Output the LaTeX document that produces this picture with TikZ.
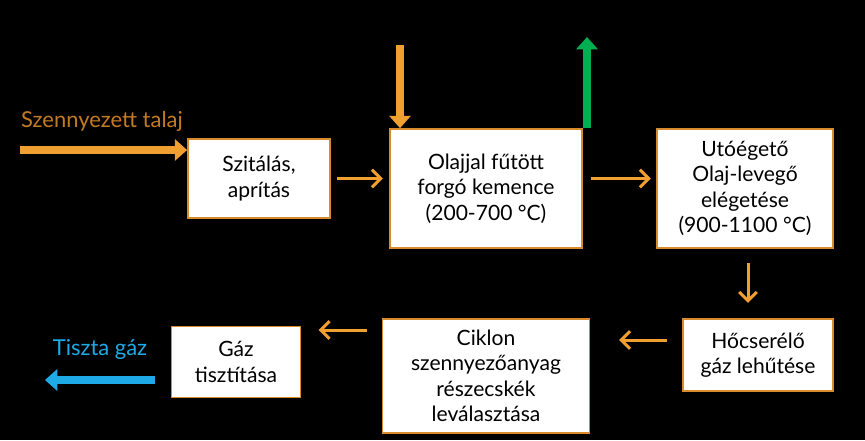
\documentclass[tikz,border=0pt]{standalone}
\usepackage{fontspec}
\setmainfont{Lato}
\usetikzlibrary{arrows.meta}
\definecolor{boxorange}{HTML}{D98A2B}
\definecolor{arrorange}{HTML}{F0A030}
\definecolor{labbrown}{HTML}{C47A22}
\definecolor{outgreen}{HTML}{00B050}
\definecolor{outblue}{HTML}{1EAAE6}
\tikzset{
    >=Stealth,
    stepbox/.style={draw=boxorange,line width=1pt,fill=white,align=center,font=\fontsize{12}{14.5}\selectfont},
    flow/.style={draw=arrorange,line width=1.7pt,-{Straight Barb[length=5pt,width=10pt]}},
    fat/.style={line width=5pt,-{Triangle[length=7pt,width=12pt]}},
}
\begin{document}
\begin{tikzpicture}[x=0.02cm,y=-0.02cm]
\fill[black] (0,0) rectangle (865,440);

\node[stepbox,minimum width=2.84cm,minimum height=1.58cm] (szit) at (259,178.5) {Szitálás,\\aprítás};
\node[stepbox,minimum width=3.84cm,minimum height=2.38cm] (kem) at (486,188.5) {Olajjal fűtött\\forgó kemence\\(200-700 °C)};
\node[stepbox,minimum width=3.52cm,minimum height=2.38cm] (uto) at (745,188.5) {Utóégető\\Olaj-levegő\\elégetése\\(900-1100 °C)};
\node[stepbox,minimum width=3.0cm,minimum height=1.44cm] (hocs) at (758,355) {Hőcserélő\\gáz lehűtése};
\node[stepbox,minimum width=4.14cm,minimum height=2.28cm] (cikl) at (486,376) {Ciklon\\szennyezőanyag\\részecskék\\leválasztása};
\node[stepbox,minimum width=2.58cm,minimum height=1.42cm] (gaz) at (236,362) {Gáz\\tisztítása};

\node[text=labbrown,font=\fontsize{12.5}{14}\selectfont] (talaj) at (102,121) {Szennyezett talaj};
\node[text=outblue,font=\fontsize{12.5}{14}\selectfont] (tiszta) at (100,349) {Tiszta gáz};

\coordinate (in) at (20,150);
\coordinate (olaj) at (400,45);
\coordinate (fust) at (587,37);
\coordinate (ki) at (45,380);

\draw[fat,draw=arrorange,fill=arrorange] (in) -- (szit.west |- in);
\draw[fat,draw=arrorange,fill=arrorange] (olaj) -- (olaj |- kem.north);
\draw[fat,draw=outgreen,fill=outgreen] (fust |- kem.north) -- (fust);
\draw[fat,draw=outblue,fill=outblue] (155,380) -- (ki);

\draw[flow] (szit.east) ++(6,0) -- ++(46,0);
\draw[flow] (kem.east) ++(8,-10) -- ++(60,0);
\draw[flow] (uto.south) ++(3,14) -- ++(0,40);
\draw[flow] (hocs.west) ++(-15,-15) -- ++(-48,0);
\draw[flow] (cikl.west) ++(-15,-46) -- ++(-48,0);
\end{tikzpicture}
\end{document}
